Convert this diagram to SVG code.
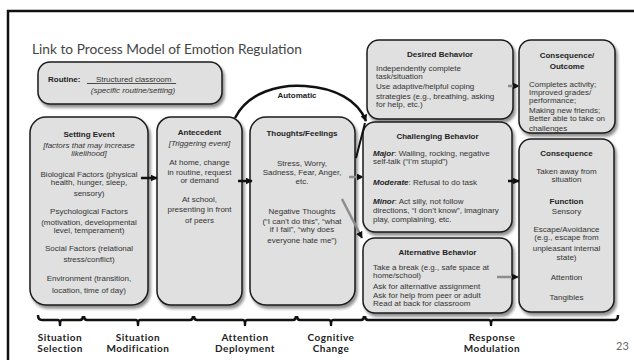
<svg xmlns="http://www.w3.org/2000/svg" width="634" height="360" viewBox="0 0 634 360">
  <style>
    .box { fill: #e0e0e0; stroke: #1a1a1a; stroke-width: 1.5; filter: url(#sh); }
    .t { font-family: "Liberation Sans", Arial, sans-serif; font-size: 8px; fill: #333; }
    .c { text-anchor: middle; }
    .b { font-weight: bold; fill: #222; }
    .i { font-style: italic; }
    .bi { font-weight: bold; font-style: italic; fill: #222; }
    .lbl { font-family: Lato, "Noto Sans", sans-serif; font-size: 10px; font-weight: bold; fill: #222; text-anchor: middle; letter-spacing: 0.5px; }
    .arrow { fill: none; stroke: #111; stroke-width: 2.5; }
    .grey { fill: none; stroke: #8c8c8c; stroke-width: 2.5; }
    .brace { fill: none; stroke: #111; stroke-width: 2.5; stroke-linejoin: round; }
  </style>
  <defs>
    <filter id="sh" x="-10%" y="-10%" width="130%" height="130%">
      <feGaussianBlur in="SourceAlpha" stdDeviation="1.6"/>
      <feOffset dx="2" dy="3" result="off"/>
      <feComponentTransfer><feFuncA type="linear" slope="0.45"/></feComponentTransfer>
      <feMerge><feMergeNode/><feMergeNode in="SourceGraphic"/></feMerge>
    </filter>
    <marker id="ah" viewBox="0 0 10 10" refX="9" refY="5" markerWidth="7" markerHeight="7" markerUnits="userSpaceOnUse" orient="auto">
      <path d="M0,0 L10,5 L0,10 z" fill="#111"/>
    </marker>
  </defs>

  <!-- slide frame -->
  <path d="M8,360 L8,11 L634,11" fill="none" stroke="#111" stroke-width="2.5"/>

  <text x="32" y="54" font-family="Lato, 'Noto Sans', sans-serif" font-size="13.5" fill="#444" textLength="270" lengthAdjust="spacingAndGlyphs">Link to Process Model of Emotion Regulation</text>

  <g id="routine">
    <rect class="box" x="38" y="62" width="184" height="42" rx="12"/>
    <text class="t b" x="48" y="82">Routine:</text>
    <text class="t" x="87" y="82" text-decoration="underline">__Structured classroom_</text>
    <text class="t i c" x="133" y="93">(specific routine/setting)</text>
  </g>

  <g id="setting-event">
    <rect class="box" x="30" y="117" width="118" height="188" rx="16"/>
    <text class="t b c" x="89" y="137">Setting Event</text>
    <text class="t i c" x="89" y="147.5">[factors that may increase</text>
    <text class="t i c" x="89" y="155.5">likelihood]</text>
    <text class="t c" x="89" y="176.5">Biological Factors (physical</text>
    <text class="t c" x="89" y="184.5">health, hunger, sleep,</text>
    <text class="t c" x="89" y="196">sensory)</text>
    <text class="t c" x="89" y="214">Psychological Factors</text>
    <text class="t c" x="89" y="225">(motivation, developmental</text>
    <text class="t c" x="89" y="233">level, temperament)</text>
    <text class="t c" x="89" y="250.5">Social Factors (relational</text>
    <text class="t c" x="89" y="262">stress/conflict)</text>
    <text class="t c" x="89" y="281">Environment (transition,</text>
    <text class="t c" x="89" y="293">location, time of day)</text>
  </g>

  <g id="antecedent">
    <rect class="box" x="157" y="117" width="85" height="188" rx="14"/>
    <text class="t b c" x="199.5" y="135">Antecedent</text>
    <text class="t i c" x="199.5" y="146">[Triggering event]</text>
    <text class="t c" x="199.5" y="164.5">At home, change</text>
    <text class="t c" x="199.5" y="175">in routine, request</text>
    <text class="t c" x="199.5" y="183">or demand</text>
    <text class="t c" x="199.5" y="202">At school,</text>
    <text class="t c" x="199.5" y="212">presenting in front</text>
    <text class="t c" x="199.5" y="223">of peers</text>
  </g>

  <g id="thoughts-feelings">
    <rect class="box" x="250" y="117" width="105" height="188" rx="16"/>
    <text class="t b c" x="302" y="136">Thoughts/Feelings</text>
    <text class="t c" x="302" y="166">Stress, Worry,</text>
    <text class="t c" x="302" y="175">Sadness, Fear, Anger,</text>
    <text class="t c" x="302" y="184">etc.</text>
    <text class="t c" x="302" y="214">Negative Thoughts</text>
    <text class="t c" x="302" y="224">(“I can’t do this”, “what</text>
    <text class="t c" x="302" y="232">if I fail”, “why does</text>
    <text class="t c" x="302" y="243">everyone hate me”)</text>
  </g>

  <g id="desired-behavior">
    <rect class="box" x="367" y="40" width="146" height="79" rx="12"/>
    <text class="t b c" x="440" y="57">Desired Behavior</text>
    <text class="t" x="376" y="71">Independently complete</text>
    <text class="t" x="376" y="79">task/situation</text>
    <text class="t" x="376" y="88.5">Use adaptive/helpful coping</text>
    <text class="t" x="376" y="99">strategies (e.g., breathing, asking</text>
    <text class="t" x="376" y="107">for help, etc.)</text>
  </g>

  <g id="consequence-outcome">
    <rect class="box" x="519" y="40" width="96" height="93" rx="12"/>
    <text class="t b c" x="567" y="58">Consequence/</text>
    <text class="t b c" x="567" y="69">Outcome</text>
    <text class="t" x="529" y="87">Completes activity;</text>
    <text class="t" x="529" y="95">Improved grades/</text>
    <text class="t" x="529" y="103">performance;</text>
    <text class="t" x="529" y="113">Making new friends;</text>
    <text class="t" x="529" y="121">Better able to take on</text>
    <text class="t" x="529" y="131">challenges</text>
  </g>

  <g id="challenging-behavior">
    <rect class="box" x="363" y="122" width="149" height="110" rx="12"/>
    <text class="t b c" x="437.5" y="139">Challenging Behavior</text>
    <text class="t" x="373" y="156"><tspan class="bi">Major</tspan>: Wailing, rocking, negative</text>
    <text class="t" x="373" y="164">self-talk (“I’m stupid”)</text>
    <text class="t" x="373" y="185"><tspan class="bi">Moderate</tspan>: Refusal to do task</text>
    <text class="t" x="373" y="204"><tspan class="bi">Minor</tspan>: Act silly, not follow</text>
    <text class="t" x="373" y="213">directions, “I don’t know”, imaginary</text>
    <text class="t" x="373" y="222">play, complaining, etc.</text>
  </g>

  <g id="alternative-behavior">
    <rect class="box" x="363" y="238" width="149" height="75" rx="12"/>
    <text class="t b c" x="437.5" y="254.5">Alternative Behavior</text>
    <text class="t" x="373" y="270">Take a break (e.g., safe space at</text>
    <text class="t" x="373" y="278">home/school)</text>
    <text class="t" x="373" y="288.5">Ask for alternative assignment</text>
    <text class="t" x="373" y="297.5">Ask for help from peer or adult</text>
    <text class="t" x="373" y="305.5">Read at back for classroom</text>
  </g>

  <g id="consequence">
    <rect class="box" x="519" y="139" width="95" height="173" rx="12"/>
    <text class="t b c" x="566.5" y="155.5">Consequence</text>
    <text class="t c" x="566.5" y="173.5">Taken away from</text>
    <text class="t c" x="566.5" y="182">situation</text>
    <text class="t b c" x="566.5" y="203.5" font-size="8.5">Function</text>
    <text class="t c" x="566.5" y="214">Sensory</text>
    <text class="t c" x="566.5" y="232">Escape/Avoidance</text>
    <text class="t c" x="566.5" y="240">(e.g., escape from</text>
    <text class="t c" x="566.5" y="250.5">unpleasant internal</text>
    <text class="t c" x="566.5" y="260">state)</text>
    <text class="t c" x="566.5" y="279.5">Attention</text>
    <text class="t c" x="566.5" y="299.5">Tangibles</text>
  </g>

  <g id="connectors">
    <line class="arrow" x1="141" y1="178" x2="157" y2="178" marker-end="url(#ah)"/>
    <line class="arrow" x1="238" y1="181" x2="252" y2="181" marker-end="url(#ah)"/>
    <line class="grey" x1="349" y1="177" x2="363" y2="177" marker-end="url(#ah)"/>
    <line class="grey" x1="342" y1="199" x2="362" y2="238" marker-end="url(#ah)"/>
    <line class="grey" x1="508" y1="86" x2="519" y2="86" marker-end="url(#ah)"/>
    <line class="arrow" x1="508" y1="181" x2="519" y2="181" marker-end="url(#ah)"/>
    <line class="grey" x1="497" y1="277" x2="518" y2="277" marker-end="url(#ah)"/>
    <line x1="356" y1="158" x2="365" y2="123" stroke="#111" stroke-width="2"/>
    <path class="arrow" d="M235,118 C248,92 280,84 305,86 C335,88 358,100 366,121" marker-end="url(#ah)"/>
    <text class="t b c" x="297" y="98">Automatic</text>
  </g>

  <g id="process-stages">
    <path class="brace" d="M38,315 Q38,320 42,320 L58,320 Q60,320 60,325 Q60,320 62,320 L80,320 Q83,320 83,316"/>
    <path class="brace" d="M84,316 Q84,320 87,320 L136,320 Q138,320 138,325 Q138,320 140,320 L190,320 Q193,320 193,316"/>
    <path class="brace" d="M194,316 Q194,320 197,320 L243,320 Q245,320 245,325 Q245,320 247,320 L293,320 Q296,320 296,316"/>
    <path class="brace" d="M297,316 Q297,320 300,320 L329,320 Q331,320 331,325 Q331,320 333,320 L361,320 Q364,320 364,316"/>
    <path class="brace" d="M365,316 Q365,320 368,320 L489,320 Q491,320 491,325 Q491,320 493,320 L615,320 Q618,320 618,315"/>
    <text class="lbl" x="60" y="341">Situation</text>
    <text class="lbl" x="60" y="352">Selection</text>
    <text class="lbl" x="138" y="341">Situation</text>
    <text class="lbl" x="138" y="352">Modification</text>
    <text class="lbl" x="245" y="341">Attention</text>
    <text class="lbl" x="245" y="352">Deployment</text>
    <text class="lbl" x="331" y="341">Cognitive</text>
    <text class="lbl" x="331" y="352">Change</text>
    <text class="lbl" x="492" y="341">Response</text>
    <text class="lbl" x="492" y="352">Modulation</text>
  </g>

  <text x="616" y="350" font-family="Lato, 'Noto Sans', sans-serif" font-size="11" fill="#666">23</text>
</svg>
